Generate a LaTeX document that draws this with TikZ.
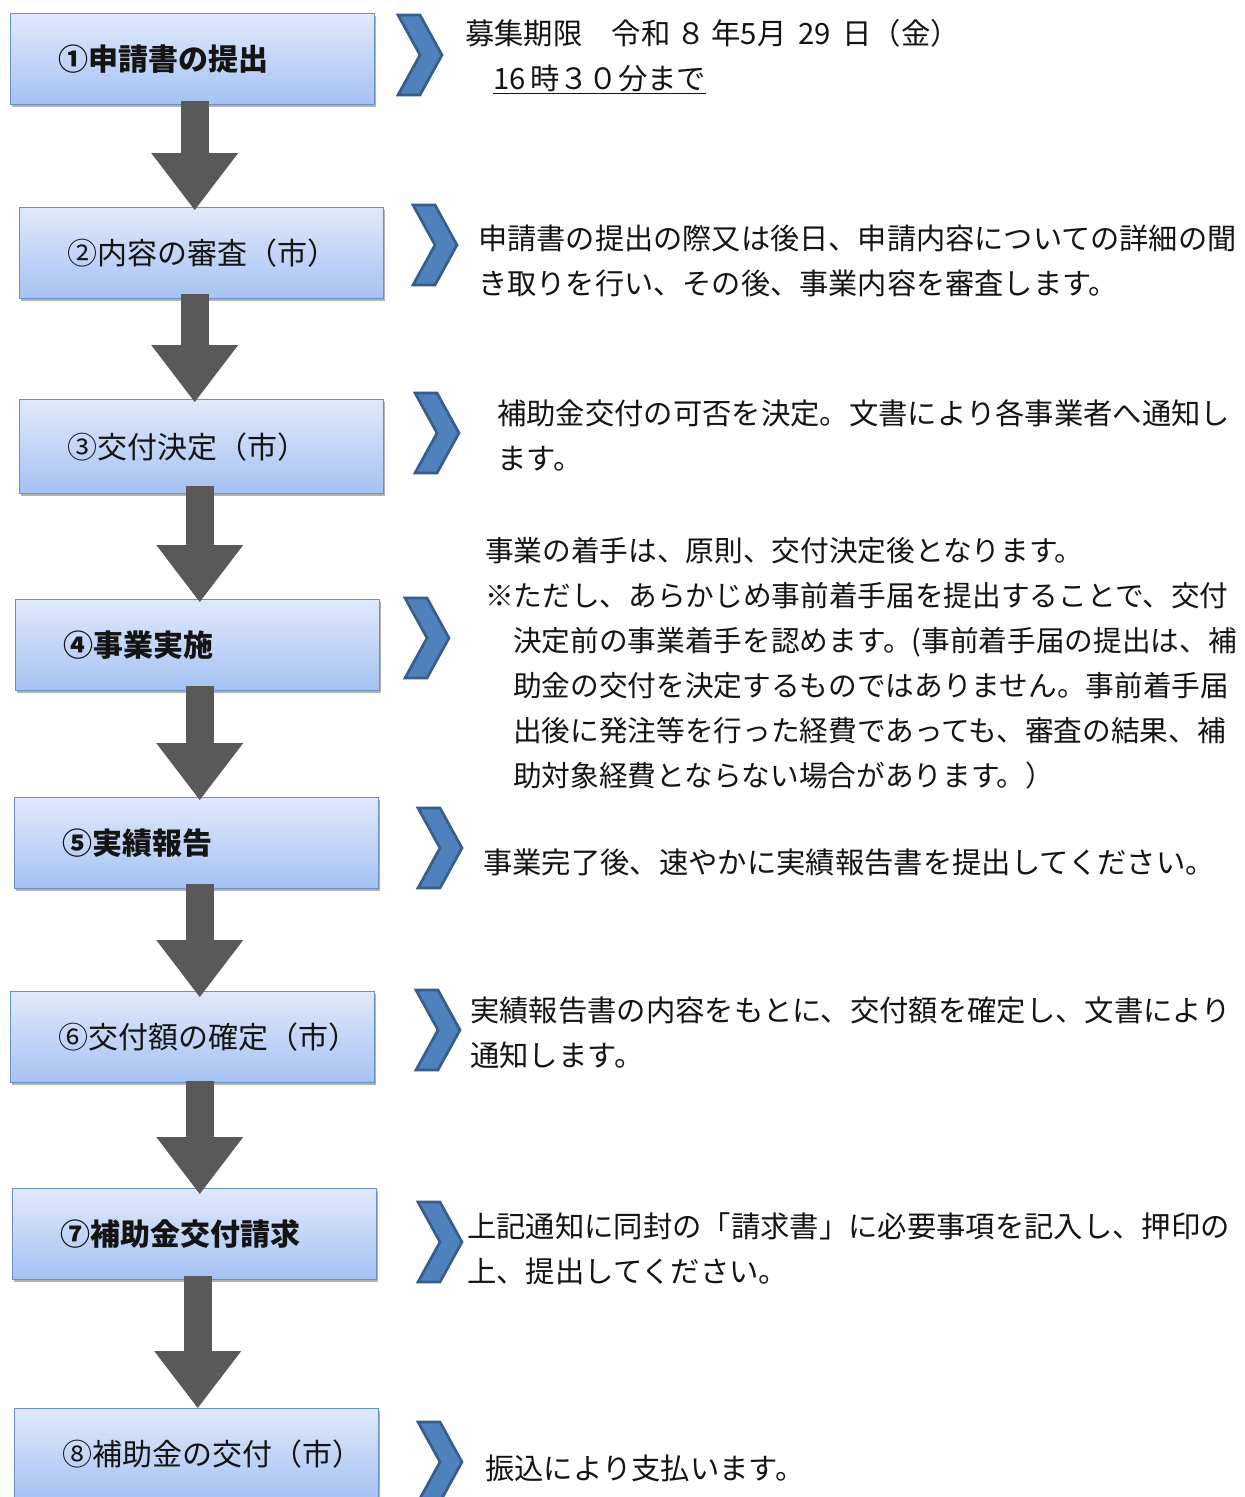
\documentclass[tikz,border=0pt]{standalone}
\usepackage{fontspec}
\setmainfont{Noto Sans CJK JP}
\usetikzlibrary{arrows.meta,calc,shadows}
\definecolor{boxtop}{RGB}{224,233,250}
\definecolor{boxbot}{RGB}{165,194,243}
\definecolor{boxline}{RGB}{104,143,204}
\definecolor{chevfill}{RGB}{79,129,189}
\definecolor{chevline}{RGB}{56,93,138}
\definecolor{arrowgray}{RGB}{89,89,89}
\definecolor{txt}{RGB}{20,20,20}
\tikzset{
  stepbox/.style={rectangle, draw=boxline, line width=1.1pt, top color=boxtop, bottom color=boxbot,
    minimum height=68.25pt, text width=201pt, inner xsep=36pt, inner ysep=0pt, align=left,
    anchor=north west, text=txt, font=\fontsize{22.5pt}{27pt}\selectfont,
    drop shadow={shadow xshift=1.2pt, shadow yshift=-1.8pt, opacity=0.3, fill=black}},
  boldbox/.style={stepbox, font=\fontsize{22.5pt}{27pt}\selectfont\bfseries},
  flowarrow/.style={draw=arrowgray, line width=21pt,
    -{Triangle[width=65.25pt,length=42.75pt,line width=0pt]}},
  chevstyle/.style={fill=chevfill, draw=chevline, line width=2pt, line join=miter},
  chevron/.pic={\path[chevstyle] (0,0) -- (22,0) -- (44,40) -- (22,80) -- (0,80) -- (22,40) -- cycle;},
  desc/.style={anchor=base west, inner sep=0pt, align=left, text=txt,
    font=\fontsize{22pt}{33.75pt}\selectfont}
}
\begin{document}
\begin{tikzpicture}[x=0.75pt,y=-0.75pt]
\clip (0,0) rectangle (1245,1497);
\fill[white] (0,0) rectangle (1245,1497);

% step boxes
\node[boldbox] (b1) at (10,13) {①申請書の提出};
\node[stepbox] (b2) at (19,207) {②内容の審査（市）};
\node[stepbox, minimum height=70.5pt] (b3) at (19,399) {③交付決定（市）};
\node[boldbox] (b4) at (15,599) {④事業実施};
\node[boldbox] (b5) at (14,797) {⑤実績報告};
\node[stepbox] (b6) at (10,991) {⑥交付額の確定（市）};
\node[boldbox] (b7) at (12,1188) {⑦補助金交付請求};
\node[stepbox] (b8) at (14,1408) {⑧補助金の交付（市）};

% block arrows
\draw[flowarrow] ($(b1.south)+(2,-4)$) -- ($(b2.north)+(-7,3)$);
\draw[flowarrow] ($(b2.south)+(-7,-5)$) -- ($(b3.north)+(-7,3)$);
\draw[flowarrow] ($(b3.south)+(-2,-8)$) -- ($(b4.north)+(2,3)$);
\draw[flowarrow] ($(b4.south)+(2,-5)$) -- ($(b5.north)+(3,3)$);
\draw[flowarrow] ($(b5.south)+(3,-5)$) -- ($(b6.north)+(7,6)$);
\draw[flowarrow] ($(b6.south)+(7,-2)$) -- ($(b7.north)+(5,6)$);
\draw[flowarrow] ($(b7.south)+(3,-4)$) -- ($(b8.north)+(1,0)$);

% chevrons
\pic (c1) at (398,15) {chevron};
\pic (c2) at (413,205) {chevron};
\pic (c3) at (415,393) {chevron};
\pic (c4) at (405,598) {chevron};
\pic (c5) at (418,808) {chevron};
\pic (c6) at (416,990) {chevron};
\pic (c7) at (418,1202) {chevron};
\pic (c8) at (418,1422) {chevron};

% descriptions (anchor = baseline of the last line)
\node[desc] (t1) at (465,89) {募集期限　令和\hspace{0.2em}８\hspace{0.2em}年5月\hspace{0.4em}29\hspace{0.4em}日（金）\\\hspace*{21pt}\underline{16\hspace{0.15em}時３０分まで}};
\node[desc, font=\fontsize{21.9pt}{33.75pt}\selectfont] (t2) at (478,294) {申請書の提出の際又は後日、申請内容についての詳細の聞\\き取りを行い、その後、事業内容を審査します。};
\node[desc] (t3) at (497,469) {補助金交付の可否を決定。文書により各事業者へ通知し\\ます。};
\node[desc, font=\fontsize{21.5pt}{33.75pt}\selectfont] (t4) at (485,786) {事業の着手は、原則、交付決定後となります。\\※ただし、あらかじめ事前着手届を提出することで、交付\\\hspace*{21pt}決定前の事業着手を認めます。(事前着手届の提出は、補\\\hspace*{21pt}助金の交付を決定するものではありません。事前着手届\\\hspace*{21pt}出後に発注等を行った経費であっても、審査の結果、補\\\hspace*{21pt}助対象経費とならない場合があります。）};
\node[desc] (t5) at (483,873) {事業完了後、速やかに実績報告書を提出してください。};
\node[desc] (t6) at (470,1066) {実績報告書の内容をもとに、交付額を確定し、文書により\\通知します。};
\node[desc] (t7) at (467,1282) {上記通知に同封の「請求書」に必要事項を記入し、押印の\\上、提出してください。};
\node[desc] (t8) at (485,1479) {振込により支払います。};
\end{tikzpicture}
\end{document}
